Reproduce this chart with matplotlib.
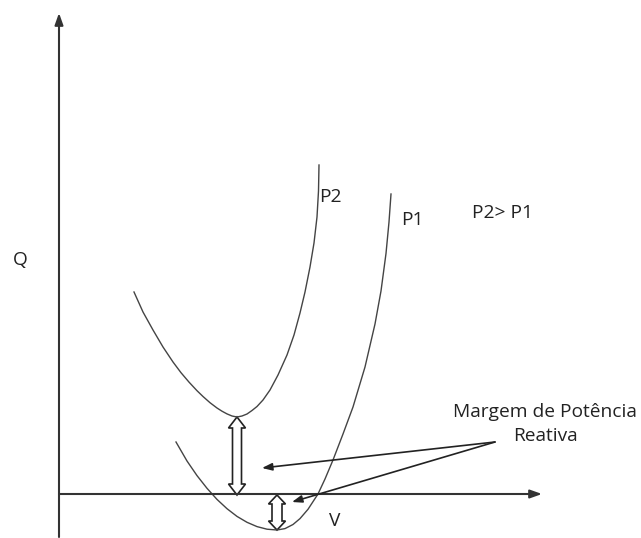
import numpy as np
import matplotlib.pyplot as plt
from matplotlib.patches import Polygon

plt.rcParams['font.family'] = ['Open Sans', 'DejaVu Sans']

# Q-V curves for two active power levels (V, Q)
p2_v = [75, 84, 94, 104, 114, 122, 130, 138, 144, 151, 158, 163, 168, 173, 178,
        183, 188, 193, 198, 204, 211, 219, 228, 235, 241, 246, 251, 255, 258, 259.5, 260]
p2_q = [203, 183, 165, 148, 133, 122.3, 112.9, 104.3, 98.5, 92.3, 87, 83.8, 81.1, 79, 78,
        79, 81, 84.5, 88.5, 95, 105, 120, 140, 160, 182, 203, 228, 252, 278, 304, 330]

p1_v = [117, 128, 138, 148, 158, 168, 178, 188, 198, 208, 218, 226, 234, 241, 249,
        259, 266, 274, 284, 294, 306, 316, 322, 327, 330, 332]
p1_q = [53, 34, 19.4, 6.7, -4.4, -13.7, -21.4, -27.3, -31.6, -34.2, -35, -33.6, -29.5, -23.6, -14.3,
        1, 16, 35, 61, 88, 128, 171, 204, 241.5, 273, 301]

# reactive power margins: (V, Q_bottom, Q_top)
margins = [(178, 0, 78), (218, -35, 0)]

fig = plt.figure(figsize=(6.41, 5.38), dpi=100)
ax = fig.add_axes([0, 0, 1, 1])
ax.set_xlim(-59, 582)
ax.set_ylim(-43, 495)
ax.axis('off')

axis_col = '#333333'
arrow_head = dict(arrowstyle='-|>,head_length=0.7,head_width=0.25', color=axis_col, lw=1.5,
                  shrinkA=0, shrinkB=0)
ax.annotate('', xy=(0, 482), xytext=(0, -42), arrowprops=arrow_head)
ax.annotate('', xy=(483, 1), xytext=(0, 1), arrowprops=arrow_head)

ax.plot(p2_v, p2_q, color='#444444', lw=1.0)
ax.plot(p1_v, p1_q, color='#444444', lw=1.0)


def hollow_darrow(x, y0, y1, shaft=9, head=17, head_len=11):
    s, h = shaft / 2, head / 2
    verts = [(x, y1), (x + h, y1 - head_len), (x + s, y1 - head_len),
             (x + s, y0 + head_len), (x + h, y0 + head_len), (x, y0),
             (x - h, y0 + head_len), (x - s, y0 + head_len),
             (x - s, y1 - head_len), (x - h, y1 - head_len)]
    ax.add_patch(Polygon(verts, closed=True, facecolor='white', edgecolor='#222222', lw=1.2))


hollow_darrow(*margins[0])
hollow_darrow(*margins[1], shaft=10, head_len=9)

note_src = (436, 53)
for tip in [(203, 27), (233, -7)]:
    ax.annotate('', xy=tip, xytext=note_src,
                arrowprops=dict(arrowstyle='-|>,head_length=0.6,head_width=0.22',
                                color='#222222', lw=1.2, shrinkA=0, shrinkB=0))

fs = 13.8
ax.text(486, 71, 'Margem de Potência\nReativa', ha='center', va='center',
        fontsize=fs, color='#222222', linespacing=1.4)
ax.text(271, 298, 'P2', ha='center', va='center', fontsize=fs, color='#222222')
ax.text(353, 275, 'P1', ha='center', va='center', fontsize=fs, color='#222222')
ax.text(444, 282, 'P2> P1', ha='center', va='center', fontsize=fs, color='#222222')
ax.text(-39, 235, 'Q', ha='center', va='center', fontsize=fs, color='#222222')
ax.text(276, -26, 'V', ha='center', va='center', fontsize=fs, color='#222222')

fig.savefig('out.png', dpi=100)
